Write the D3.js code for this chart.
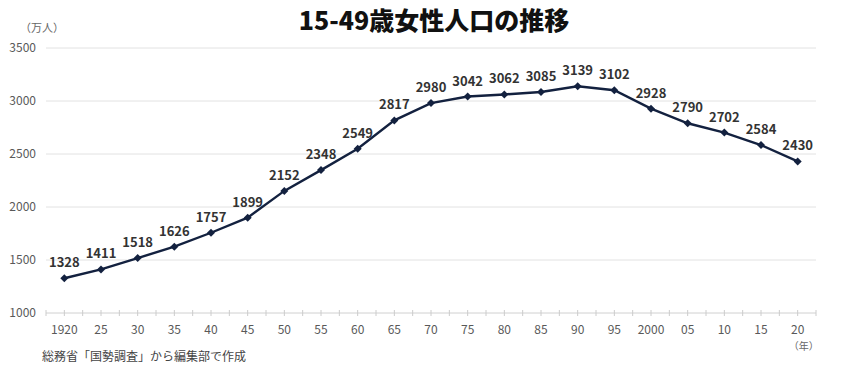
<!DOCTYPE html>
<meta charset="utf-8">
<script src="https://d3js.org/d3.v7.min.js"></script>
<style>
  body { margin: 0; background: #fff; }
  text { font-family: "Noto Sans CJK JP", "Noto Sans", sans-serif; }
</style>
<div id="plot_div"></div>
<script>
    // data
    const years = ["1920", "25", "30", "35", "40", "45", "50", "55", "60", "65", "70", "75", "80", "85", "90", "95", "2000", "05", "10", "15", "20"];
    const population = [1328, 1411, 1518, 1626, 1757, 1899, 2152, 2348, 2549, 2817, 2980, 3042, 3062, 3085, 3139, 3102, 2928, 2790, 2702, 2584, 2430];
    const yTicks = [1000, 1500, 2000, 2500, 3000, 3500];

    const W = 846, H = 374;
    const margin = { top: 48, right: 30, bottom: 61, left: 46 };
    const width = W - margin.left - margin.right,
        height = H - margin.top - margin.bottom;

    const svg = d3.select("#plot_div").append("svg")
        .attr("width", W).attr("height", H);

    // title
    svg.append("text")
        .attr("x", 434).attr("y", 30)
        .attr("text-anchor", "middle")
        .attr("font-size", 25).attr("font-weight", 900)
        .attr("fill", "#111")
        .text("15-49歳女性人口の推移");

    const g = svg.append("g").attr("transform", "translate(" + margin.left + "," + margin.top + ")");

    const x = d3.scaleBand().domain(years).range([0, width]);
    const y = d3.scaleLinear().domain([1000, 3500]).range([height, 0]);
    const cx = d => x(d) + x.bandwidth() / 2;

    // grid lines
    g.selectAll(".grid").data(yTicks.slice(1)).enter().append("line")
        .attr("x1", 0).attr("x2", width)
        .attr("y1", d => y(d)).attr("y2", d => y(d))
        .attr("stroke", "#e2e2e2").attr("stroke-width", 1);

    // y labels
    g.selectAll(".ylab").data(yTicks).enter().append("text")
        .attr("x", -10).attr("y", d => y(d) + 4)
        .attr("text-anchor", "end")
        .attr("font-size", 12).attr("fill", "#595959")
        .text(d => d);

    svg.append("text")
        .attr("x", 20).attr("y", 32)
        .attr("font-size", 11).attr("fill", "#666")
        .text("（万人）");

    // x axis
    const xAxis = g.append("g").attr("transform", "translate(0," + height + ")");
    xAxis.append("line").attr("x1", 0).attr("x2", width)
        .attr("stroke", "#d0d0d0");
    const tickPos = [];
    years.forEach(d => { tickPos.push(x(d)); tickPos.push(cx(d)); });
    tickPos.push(width);
    xAxis.selectAll(".tick").data(tickPos).enter().append("line")
        .attr("x1", d => d).attr("x2", d => d)
        .attr("y1", -3).attr("y2", 3)
        .attr("stroke", "#ccc");
    xAxis.selectAll(".xlab").data(years).enter().append("text")
        .attr("x", d => cx(d)).attr("y", 21)
        .attr("text-anchor", "middle")
        .attr("font-size", 12).attr("fill", "#595959")
        .text(d => d);
    xAxis.append("text")
        .attr("x", cx("20") + 6).attr("y", 37)
        .attr("text-anchor", "middle")
        .attr("font-size", 10).attr("fill", "#666")
        .text("（年）");

    // line
    const pts = years.map((d, i) => [cx(d), y(population[i])]);
    g.append("path")
        .attr("d", d3.line()(pts))
        .attr("fill", "none")
        .attr("stroke", "#13213f")
        .attr("stroke-width", 2.4);

    g.selectAll(".pt").data(pts).enter().append("path")
        .attr("d", "M0,-4L4,0L0,4L-4,0Z")
        .attr("transform", d => "translate(" + d[0] + "," + d[1] + ")")
        .attr("fill", "#13213f");

    // labels
    g.selectAll(".vlab").data(years).enter().append("text")
        .attr("x", d => cx(d)).attr("y", (d, i) => y(population[i]) - 11)
        .attr("text-anchor", "middle")
        .attr("font-size", 13).attr("font-weight", "bold")
        .attr("fill", "#333")
        .text((d, i) => population[i]);

    // source
    svg.append("text")
        .attr("x", 42).attr("y", 361)
        .attr("font-size", 12).attr("fill", "#444")
        .text("総務省「国勢調査」から編集部で作成");
</script>
